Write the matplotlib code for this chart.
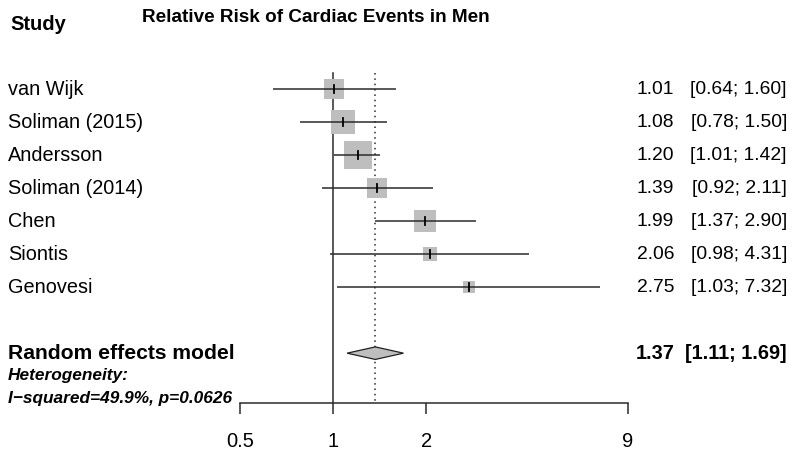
import numpy as np
import matplotlib.pyplot as plt
from matplotlib.transforms import blended_transform_factory
from matplotlib.patches import Polygon

plt.rcParams['font.family'] = ['Liberation Sans', 'DejaVu Sans']

studies = ["van Wijk", "Soliman (2015)", "Andersson", "Soliman (2014)",
           "Chen", "Siontis", "Genovesi"]
rr = [1.01, 1.08, 1.20, 1.39, 1.99, 2.06, 2.75]
lower = [0.64, 0.78, 1.01, 0.92, 1.37, 0.98, 1.03]
upper = [1.60, 1.50, 1.42, 2.11, 2.90, 4.31, 7.32]
weights = [12.9, 18.9, 26.0, 14.3, 15.8, 7.0, 5.1]  # percent, random effects

pooled = 1.37
pooled_lo, pooled_hi = 1.11, 1.69
i2 = 49.9
p_het = 0.0626

xticks = [0.5, 1, 2, 9]

W, H, DPI = 795, 453, 100
fig = plt.figure(figsize=(W / DPI, H / DPI), dpi=DPI)

# forest panel: 0.5..9 on a log scale, rows 1..n top-down
left_px, right_px = 240, 628
top_px, bottom_px = 56, 402.7
ax = fig.add_axes([left_px / W, 1 - bottom_px / H,
                   (right_px - left_px) / W, (bottom_px - top_px) / H])
ax.set_xscale('log')
ax.set_xlim(0.5, 9)
ax.set_ylim(10.5, 0)

rows = np.arange(1, len(studies) + 1)
pooled_row = len(studies) + 2

# reference lines
ax.plot([1, 1], [0.5, 10.5], color='#2b2b2b', lw=1.1, clip_on=False)
ax.plot([pooled, pooled], [0.5, 10.5], color='#2b2b2b', lw=1.1,
        ls=(0, (1, 2.5)), clip_on=False)

side = 5.3 * np.sqrt(weights) * 0.72  # points
for y, est, lo, hi, s in zip(rows, rr, lower, upper, side):
    ax.plot(est, y, marker='s', ms=s, color='#bebebe', mew=0, zorder=2)
    ax.plot([lo, hi], [y, y], color='#2b2b2b', lw=1.1, zorder=3,
            solid_capstyle='butt')
    ax.plot([est, est], [y - 0.13, y + 0.13], color='black', lw=1.3, zorder=4)

diamond = Polygon([[pooled_lo, pooled_row], [pooled, pooled_row - 0.19],
                   [pooled_hi, pooled_row], [pooled, pooled_row + 0.19]],
                  closed=True, facecolor='#bebebe', edgecolor='#222222',
                  lw=0.9, zorder=3)
ax.add_patch(diamond)

for side_name in ['left', 'right', 'top']:
    ax.spines[side_name].set_visible(False)
ax.spines['bottom'].set_color('#2b2b2b')
ax.spines['bottom'].set_linewidth(1.1)
ax.set_yticks([])
ax.set_xticks(xticks)
ax.set_xticklabels([f"{t:g}" for t in xticks], fontsize=14.5)
ax.minorticks_off()
ax.tick_params(axis='x', length=8, width=1.1, color='#2b2b2b', pad=13)

# text columns
tr = blended_transform_factory(fig.transFigure, ax.transData)
fs = 14.3
fs_num = 13.9
fs_bold = 15.2
for y, name, est, lo, hi in zip(rows, studies, rr, lower, upper):
    ax.text(8 / W, y, name, transform=tr, fontsize=fs, va='center',
            ha='left', clip_on=False)
    ax.text(674 / W, y, f"{est:.2f}", transform=tr, fontsize=fs_num,
            va='center', ha='right', clip_on=False)
    ax.text(787 / W, y, f"[{lo:.2f}; {hi:.2f}]", transform=tr,
            fontsize=fs_num, va='center', ha='right', clip_on=False)

ax.text(8 / W, pooled_row, "Random effects model", transform=tr,
        fontsize=fs_bold, fontweight='bold', va='center', ha='left')
ax.text(675 / W, pooled_row, f"{pooled:.2f}", transform=tr, fontsize=14.3,
        fontweight='bold', va='center', ha='right')
ax.text(787 / W, pooled_row, f"[{pooled_lo:.2f}; {pooled_hi:.2f}]",
        transform=tr, fontsize=14.3, fontweight='bold', va='center',
        ha='right')
ax.text(8 / W, pooled_row + 0.67, "Heterogeneity:", transform=tr,
        fontsize=12.4, fontweight='bold', fontstyle='italic', va='center')
ax.text(8 / W, pooled_row + 1.36,
        f"I\u2212squared={i2:.1f}%, p={p_het:.4f}", transform=tr,
        fontsize=12.4, fontweight='bold', fontstyle='italic', va='center')

fig.text(10 / W, 1 - 25 / H, "Study", fontsize=14.5, fontweight='bold',
         va='center', ha='left')
fig.text(316 / W, 1 - 17 / H, "Relative Risk of Cardiac Events in Men",
         fontsize=13.6, fontweight='bold', va='center', ha='center')

fig.savefig("out.png", dpi=DPI)
